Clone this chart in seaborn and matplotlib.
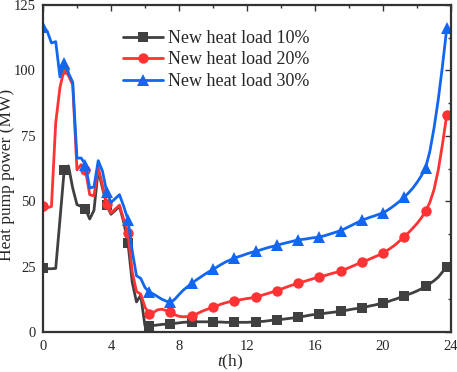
import numpy as np
import pandas as pd
import matplotlib
matplotlib.use("Agg")
import matplotlib.pyplot as plt
import seaborn as sns
from matplotlib.ticker import MultipleLocator

# time axis: 15-min steps from 0 h to 23.75 h
hours = np.arange(96) * 0.25

load10 = [24.4, 24.2, 24.2, 24.3, 43.0, 62.0, 63.5, 55.0, 48.7, 48.0,
          47.0, 43.2, 46.5, 62.0, 55.0, 48.5, 45.0, 46.5, 48.0, 42.0,
          34.0, 19.0, 11.5, 14.0, 2.3, 2.3, 2.5, 2.7, 2.9, 3.0,
          3.1, 3.3, 3.5, 3.7, 3.8, 3.9, 3.9, 3.9, 3.9, 3.9,
          3.9, 3.8, 3.8, 3.7, 3.7, 3.7, 3.7, 3.7, 3.7, 3.8,
          3.9, 4.0, 4.1, 4.3, 4.5, 4.6, 4.8, 5.0, 5.2, 5.4,
          5.6, 5.9, 6.2, 6.5, 6.7, 6.9, 7.1, 7.3, 7.5, 7.7,
          7.9, 8.2, 8.5, 8.8, 9.0, 9.2, 9.6, 10.0, 10.3, 10.7,
          11.0, 11.5, 12.1, 12.6, 13.2, 13.8, 14.4, 15.0, 15.7, 16.5,
          17.4, 18.5, 19.6, 21.0, 23.0, 25.0]

load20 = [48.0, 47.5, 48.0, 80.0, 93.5, 100.5, 98.0, 94.5, 62.0, 64.0,
          61.8, 52.5, 52.0, 63.0, 56.0, 49.0, 45.5, 47.0, 48.5, 43.0,
          38.0, 23.0, 15.5, 14.5, 9.5, 7.0, 7.5, 8.5, 8.7, 8.2,
          7.6, 6.6, 6.0, 5.8, 5.9, 6.1, 6.8, 7.6, 8.3, 8.9,
          9.5, 10.1, 10.7, 11.2, 11.6, 11.9, 12.2, 12.5, 12.8, 13.0,
          13.3, 13.8, 14.3, 14.8, 15.3, 15.8, 16.4, 17.0, 17.6, 18.1,
          18.6, 19.1, 19.6, 20.1, 20.6, 21.0, 21.4, 21.9, 22.4, 22.8,
          23.2, 23.9, 24.6, 25.3, 26.0, 26.7, 27.3, 28.0, 28.7, 29.4,
          30.1, 31.2, 32.3, 33.5, 35.0, 36.5, 38.0, 39.7, 41.5, 43.6,
          46.1, 49.5, 54.5, 62.0, 72.0, 83.1]

load30 = [116.5, 115.0, 110.5, 111.0, 97.5, 103.0, 99.0, 95.5, 66.5, 66.5,
          64.0, 55.0, 55.5, 65.5, 61.5, 53.5, 49.5, 51.0, 52.5, 48.0,
          43.0, 31.0, 21.5, 20.5, 17.0, 15.3, 14.5, 13.5, 12.5, 11.8,
          11.3, 12.5, 14.3, 16.0, 17.3, 18.6, 19.8, 20.9, 22.0, 23.0,
          23.9, 24.9, 25.9, 26.8, 27.5, 28.2, 28.8, 29.3, 29.9, 30.4,
          30.8, 31.3, 31.8, 32.3, 32.7, 33.1, 33.6, 34.0, 34.4, 34.8,
          35.2, 35.4, 35.6, 35.9, 36.1, 36.3, 36.7, 37.2, 37.7, 38.2,
          38.8, 39.5, 40.3, 41.1, 41.9, 42.7, 43.3, 43.9, 44.4, 45.0,
          45.5, 46.5, 47.6, 48.8, 50.1, 51.6, 53.2, 55.0, 57.2, 59.7,
          62.7, 69.0, 78.0, 89.0, 102.0, 116.3]

labels = ["New heat load 10%", "New heat load 20%", "New heat load 30%"]
colors = ["#404040", "#FF3333", "#1266F0"]
markers = ["s", "o", "^"]
msizes = [6.5, 7.5, 8]

sns.set_style("white")
plt.rcParams["font.family"] = ["Liberation Serif", "DejaVu Serif"]
plt.rcParams["mathtext.fontset"] = "custom"
plt.rcParams["mathtext.it"] = "Liberation Serif:italic"
plt.rcParams["mathtext.rm"] = "Liberation Serif"

fig = plt.figure(figsize=(4.57, 3.72), dpi=100)
ax = fig.add_axes([0.094, 0.1075, 0.893, 0.879])

for vals, lab, col, mk, ms in zip([load10, load20, load30], labels, colors, markers, msizes):
    df = pd.DataFrame({"t": hours, "P": vals})
    sns.lineplot(data=df, x="t", y="P", ax=ax, color=col, marker=mk,
                 markersize=ms, markevery=5, linewidth=2.0,
                 markeredgewidth=0, label=lab)

ax.set_xlim(0, 24)
ax.set_ylim(0, 125)
ax.xaxis.set_major_locator(MultipleLocator(4))
ax.xaxis.set_minor_locator(MultipleLocator(2))
ax.yaxis.set_major_locator(MultipleLocator(25))
ax.yaxis.set_minor_locator(MultipleLocator(12.5))
ax.tick_params(axis="both", which="both", direction="in", top=True, right=True,
               labelsize=10.5, width=1.0, color="#333333")
ax.tick_params(axis="both", which="major", length=4)
ax.tick_params(axis="both", which="minor", length=2.5)
ax.tick_params(axis="x", pad=6)
ax.tick_params(axis="y", pad=5)
for s in ax.spines.values():
    s.set_linewidth(1.6)
    s.set_color("#333333")

ax.set_xlabel(r"$\mathit{t}$(h)", fontsize=12.5)
ax.xaxis.set_label_coords(0.458, -0.062)
ax.set_ylabel("Heat pump power (MW)", fontsize=12.5)
ax.yaxis.set_label_coords(-0.068, 0.48)

leg = ax.legend(loc="upper left", bbox_to_anchor=(0.17, 0.957), frameon=False,
                fontsize=13, handlelength=2.2, handletextpad=0.28,
                labelspacing=0.25, borderaxespad=0.2)

fig.savefig("out.png", dpi=100)
